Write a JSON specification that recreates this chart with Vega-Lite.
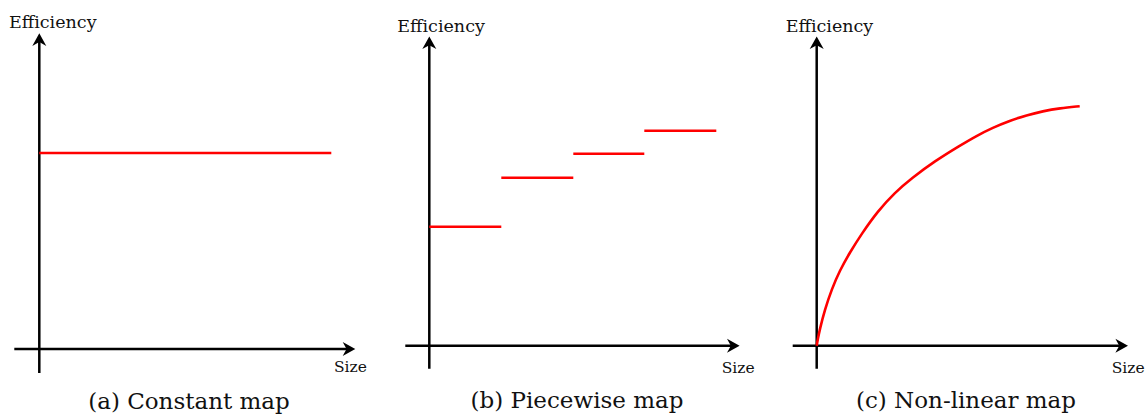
{
  "$schema": "https://vega.github.io/schema/vega-lite/v6.json",
  "padding": 0,
  "spacing": 19.5,
  "bounds": "flush",
  "background": "white",
  "config": {"view": {"stroke": null}, "font": "DejaVu Serif"},
  "datasets": {
    "axes": [
      {"panel": "a", "axis": "x", "x": -25, "x2": 311, "y": 0, "y2": 0},
      {"panel": "a", "axis": "y", "x": 0, "x2": 0, "y": -24, "y2": 311},
      {"panel": "b", "axis": "x", "x": -24, "x2": 305, "y": 0, "y2": 0},
      {"panel": "b", "axis": "y", "x": 0, "x2": 0, "y": -23, "y2": 304},
      {"panel": "c", "axis": "x", "x": -24, "x2": 306, "y": 0, "y2": 0},
      {"panel": "c", "axis": "y", "x": 0, "x2": 0, "y": -23, "y2": 304}
    ],
    "heads": [
      {"panel": "a", "axis": "x", "x": 309.7, "y": 0},
      {"panel": "a", "axis": "y", "x": 0, "y": 309.4},
      {"panel": "b", "axis": "x", "x": 304, "y": 0},
      {"panel": "b", "axis": "y", "x": 0, "y": 303},
      {"panel": "c", "axis": "x", "x": 305, "y": 0},
      {"panel": "c", "axis": "y", "x": 0, "y": 303}
    ],
    "steps": [
      {"panel": "a", "x": 0, "x2": 292, "y": 196},
      {"panel": "b", "x": 0, "x2": 72, "y": 119},
      {"panel": "b", "x": 72, "x2": 144, "y": 168},
      {"panel": "b", "x": 144, "x2": 215, "y": 192},
      {"panel": "b", "x": 215, "x2": 287, "y": 215}
    ],
    "curve": [
      {"x": 0, "y": 0}, {"x": 1, "y": 6}, {"x": 3, "y": 16}, {"x": 8, "y": 35.5}, {"x": 15, "y": 56.5},
      {"x": 23, "y": 75}, {"x": 33, "y": 93}, {"x": 45, "y": 112}, {"x": 61, "y": 134.5},
      {"x": 78, "y": 153}, {"x": 95, "y": 167.5}, {"x": 118, "y": 184.5}, {"x": 143, "y": 200},
      {"x": 160, "y": 210}, {"x": 176, "y": 218}, {"x": 193, "y": 225}, {"x": 210, "y": 230.5},
      {"x": 226, "y": 234.5}, {"x": 243, "y": 237.5}, {"x": 263, "y": 239.5}
    ],
    "labels": [
      {"panel": "a", "role": "ylabel", "text": "Efficiency", "x": -30.3, "y": 321},
      {"panel": "a", "role": "xlabel", "text": "Size", "x": 294.7, "y": -23},
      {"panel": "a", "role": "caption", "text": "(a) Constant map", "x": 149.7, "y": -60},
      {"panel": "b", "role": "ylabel", "text": "Efficiency", "x": -32, "y": 313.4},
      {"panel": "b", "role": "xlabel", "text": "Size", "x": 292.4, "y": -27.3},
      {"panel": "b", "role": "caption", "text": "(b) Piecewise map", "x": 147.7, "y": -62.3},
      {"panel": "c", "role": "ylabel", "text": "Efficiency", "x": -31, "y": 313.4},
      {"panel": "c", "role": "xlabel", "text": "Size", "x": 295, "y": -27.3},
      {"panel": "c", "role": "caption", "text": "(c) Non-linear map", "x": 149.3, "y": -62.3}
    ]
  },
  "hconcat": [
    {
      "width": 369, "height": 414,
      "layer": [
        {"data": {"name": "axes"}, "transform": [{"filter": "datum.panel === 'a'"}],
         "mark": {"type": "rule", "color": "black", "strokeWidth": 2.5},
         "encoding": {
           "x": {"field": "x", "type": "quantitative", "scale": {"domain": [-39.3, 329.7], "nice": false, "zero": false}, "axis": null},
           "x2": {"field": "x2"},
           "y": {"field": "y", "type": "quantitative", "scale": {"domain": [-65, 349], "nice": false, "zero": false}, "axis": null},
           "y2": {"field": "y2"}}},
        {"data": {"name": "heads"}, "transform": [{"filter": "datum.panel === 'a' && datum.axis === 'x'"}],
         "mark": {"type": "point", "filled": true, "color": "black", "opacity": 1, "size": 196, "shape": "M0.9,0 L-0.9,-1 L-0.35,0 L-0.9,1 Z"},
         "encoding": {"x": {"field": "x", "type": "quantitative"}, "y": {"field": "y", "type": "quantitative"}}},
        {"data": {"name": "heads"}, "transform": [{"filter": "datum.panel === 'a' && datum.axis === 'y'"}],
         "mark": {"type": "point", "filled": true, "color": "black", "opacity": 1, "size": 196, "shape": "M0,-0.9 L-1,0.9 L0,0.35 L1,0.9 Z"},
         "encoding": {"x": {"field": "x", "type": "quantitative"}, "y": {"field": "y", "type": "quantitative"}}},
        {"data": {"name": "steps"}, "transform": [{"filter": "datum.panel === 'a'"}],
         "mark": {"type": "rule", "color": "#ff0000", "strokeWidth": 2.6, "strokeCap": "butt"},
         "encoding": {"x": {"field": "x", "type": "quantitative"}, "x2": {"field": "x2"}, "y": {"field": "y", "type": "quantitative"}}},
        {"data": {"name": "labels"}, "transform": [{"filter": "datum.panel === 'a' && datum.role === 'ylabel'"}],
         "mark": {"type": "text", "font": "DejaVu Serif", "align": "left", "baseline": "alphabetic", "fontSize": 17.5, "color": "#111"},
         "encoding": {"x": {"field": "x", "type": "quantitative"}, "y": {"field": "y", "type": "quantitative"}, "text": {"field": "text"}}},
        {"data": {"name": "labels"}, "transform": [{"filter": "datum.panel === 'a' && datum.role === 'xlabel'"}],
         "mark": {"type": "text", "font": "DejaVu Serif", "align": "left", "baseline": "alphabetic", "fontSize": 15.5, "color": "#111"},
         "encoding": {"x": {"field": "x", "type": "quantitative"}, "y": {"field": "y", "type": "quantitative"}, "text": {"field": "text"}}},
        {"data": {"name": "labels"}, "transform": [{"filter": "datum.panel === 'a' && datum.role === 'caption'"}],
         "mark": {"type": "text", "font": "DejaVu Serif", "align": "center", "baseline": "alphabetic", "fontSize": 23, "color": "#111"},
         "encoding": {"x": {"field": "x", "type": "quantitative"}, "y": {"field": "y", "type": "quantitative"}, "text": {"field": "text"}}}
      ]
    },
    {
      "width": 369, "height": 414,
      "layer": [
        {"data": {"name": "axes"}, "transform": [{"filter": "datum.panel === 'b'"}],
         "mark": {"type": "rule", "color": "black", "strokeWidth": 2.5},
         "encoding": {
           "x": {"field": "x", "type": "quantitative", "scale": {"domain": [-40.8, 328.2], "nice": false, "zero": false}, "axis": null},
           "x2": {"field": "x2"},
           "y": {"field": "y", "type": "quantitative", "scale": {"domain": [-68.3, 345.7], "nice": false, "zero": false}, "axis": null},
           "y2": {"field": "y2"}}},
        {"data": {"name": "heads"}, "transform": [{"filter": "datum.panel === 'b' && datum.axis === 'x'"}],
         "mark": {"type": "point", "filled": true, "color": "black", "opacity": 1, "size": 196, "shape": "M0.9,0 L-0.9,-1 L-0.35,0 L-0.9,1 Z"},
         "encoding": {"x": {"field": "x", "type": "quantitative"}, "y": {"field": "y", "type": "quantitative"}}},
        {"data": {"name": "heads"}, "transform": [{"filter": "datum.panel === 'b' && datum.axis === 'y'"}],
         "mark": {"type": "point", "filled": true, "color": "black", "opacity": 1, "size": 196, "shape": "M0,-0.9 L-1,0.9 L0,0.35 L1,0.9 Z"},
         "encoding": {"x": {"field": "x", "type": "quantitative"}, "y": {"field": "y", "type": "quantitative"}}},
        {"data": {"name": "steps"}, "transform": [{"filter": "datum.panel === 'b'"}],
         "mark": {"type": "rule", "color": "#ff0000", "strokeWidth": 2.6, "strokeCap": "butt"},
         "encoding": {"x": {"field": "x", "type": "quantitative"}, "x2": {"field": "x2"}, "y": {"field": "y", "type": "quantitative"}}},
        {"data": {"name": "labels"}, "transform": [{"filter": "datum.panel === 'b' && datum.role === 'ylabel'"}],
         "mark": {"type": "text", "font": "DejaVu Serif", "align": "left", "baseline": "alphabetic", "fontSize": 17.5, "color": "#111"},
         "encoding": {"x": {"field": "x", "type": "quantitative"}, "y": {"field": "y", "type": "quantitative"}, "text": {"field": "text"}}},
        {"data": {"name": "labels"}, "transform": [{"filter": "datum.panel === 'b' && datum.role === 'xlabel'"}],
         "mark": {"type": "text", "font": "DejaVu Serif", "align": "left", "baseline": "alphabetic", "fontSize": 15.5, "color": "#111"},
         "encoding": {"x": {"field": "x", "type": "quantitative"}, "y": {"field": "y", "type": "quantitative"}, "text": {"field": "text"}}},
        {"data": {"name": "labels"}, "transform": [{"filter": "datum.panel === 'b' && datum.role === 'caption'"}],
         "mark": {"type": "text", "font": "DejaVu Serif", "align": "center", "baseline": "alphabetic", "fontSize": 23, "color": "#111"},
         "encoding": {"x": {"field": "x", "type": "quantitative"}, "y": {"field": "y", "type": "quantitative"}, "text": {"field": "text"}}}
      ]
    },
    {
      "width": 369, "height": 414,
      "layer": [
        {"data": {"name": "axes"}, "transform": [{"filter": "datum.panel === 'c'"}],
         "mark": {"type": "rule", "color": "black", "strokeWidth": 2.5},
         "encoding": {
           "x": {"field": "x", "type": "quantitative", "scale": {"domain": [-39.7, 329.3], "nice": false, "zero": false}, "axis": null},
           "x2": {"field": "x2"},
           "y": {"field": "y", "type": "quantitative", "scale": {"domain": [-68.3, 345.7], "nice": false, "zero": false}, "axis": null},
           "y2": {"field": "y2"}}},
        {"data": {"name": "heads"}, "transform": [{"filter": "datum.panel === 'c' && datum.axis === 'x'"}],
         "mark": {"type": "point", "filled": true, "color": "black", "opacity": 1, "size": 196, "shape": "M0.9,0 L-0.9,-1 L-0.35,0 L-0.9,1 Z"},
         "encoding": {"x": {"field": "x", "type": "quantitative"}, "y": {"field": "y", "type": "quantitative"}}},
        {"data": {"name": "heads"}, "transform": [{"filter": "datum.panel === 'c' && datum.axis === 'y'"}],
         "mark": {"type": "point", "filled": true, "color": "black", "opacity": 1, "size": 196, "shape": "M0,-0.9 L-1,0.9 L0,0.35 L1,0.9 Z"},
         "encoding": {"x": {"field": "x", "type": "quantitative"}, "y": {"field": "y", "type": "quantitative"}}},
        {"data": {"name": "curve"},
         "mark": {"type": "line", "color": "#ff0000", "strokeWidth": 2.6, "interpolate": "basis"},
         "encoding": {"x": {"field": "x", "type": "quantitative"}, "y": {"field": "y", "type": "quantitative"}}},
        {"data": {"name": "labels"}, "transform": [{"filter": "datum.panel === 'c' && datum.role === 'ylabel'"}],
         "mark": {"type": "text", "font": "DejaVu Serif", "align": "left", "baseline": "alphabetic", "fontSize": 17.5, "color": "#111"},
         "encoding": {"x": {"field": "x", "type": "quantitative"}, "y": {"field": "y", "type": "quantitative"}, "text": {"field": "text"}}},
        {"data": {"name": "labels"}, "transform": [{"filter": "datum.panel === 'c' && datum.role === 'xlabel'"}],
         "mark": {"type": "text", "font": "DejaVu Serif", "align": "left", "baseline": "alphabetic", "fontSize": 15.5, "color": "#111"},
         "encoding": {"x": {"field": "x", "type": "quantitative"}, "y": {"field": "y", "type": "quantitative"}, "text": {"field": "text"}}},
        {"data": {"name": "labels"}, "transform": [{"filter": "datum.panel === 'c' && datum.role === 'caption'"}],
         "mark": {"type": "text", "font": "DejaVu Serif", "align": "center", "baseline": "alphabetic", "fontSize": 23, "color": "#111"},
         "encoding": {"x": {"field": "x", "type": "quantitative"}, "y": {"field": "y", "type": "quantitative"}, "text": {"field": "text"}}}
      ]
    }
  ]
}
